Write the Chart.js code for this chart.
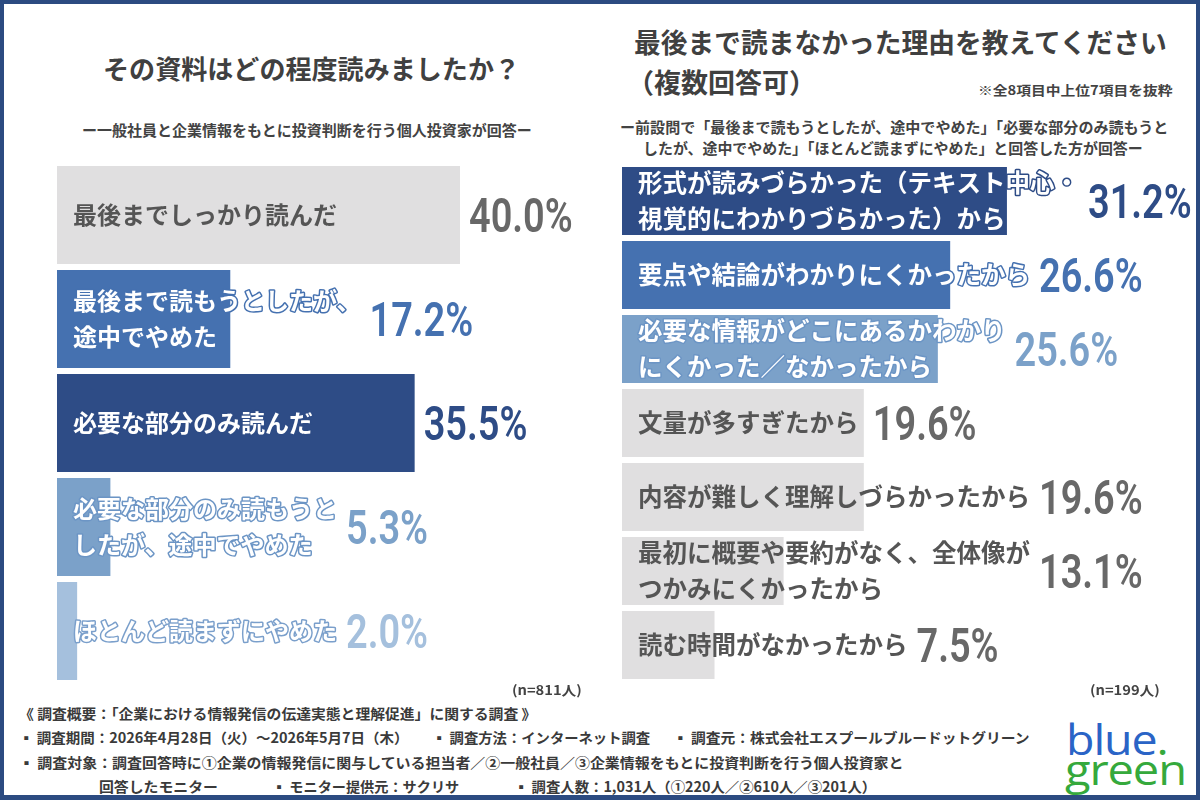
<!DOCTYPE html>
<html lang="ja">
<head>
<meta charset="utf-8">
<script src="https://cdn.jsdelivr.net/npm/chart.js@4"></script>
<style>
  html, body { margin: 0; padding: 0; }
  body {
    width: 1200px; height: 800px; position: relative; overflow: hidden;
    background: #fff; font-family: "Noto Sans CJK JP", sans-serif; font-weight: 700; color: #434343;
  }
  .frame {
    position: absolute; left: 0; top: 0; width: 1200px; height: 800px; box-sizing: border-box;
    border: 4px solid #2c4b81; border-bottom-width: 5px;
  }
  .t { position: absolute; white-space: nowrap; line-height: 1; transform-origin: left center; }
  .foot { font-size: 14px; color: #3a3a3a; }
  canvas { position: absolute; }
  .logo { position: absolute; font-family: "Open Sans", sans-serif; font-weight: 500; line-height: 1; letter-spacing: -1px; transform-origin: left center; white-space: nowrap; }
</style>
</head>
<body>
<div class="frame"></div>

<div class="t fit" data-w="417" style="left:103px; top:55px; font-size:26px; color:#404040;">その資料はどの程度読みましたか？</div>
<div class="t fit" data-w="450" style="left:82px; top:122px; font-size:15px;">ー一般社員と企業情報をもとに投資判断を行う個人投資家が回答ー</div>

<div class="t fit" data-w="533" style="left:634px; top:28px; font-size:27px; color:#404040;">最後まで読まなかった理由を教えてください</div>
<div class="t" style="left:627px; top:68px; font-size:27px; color:#404040;">（複数回答可）</div>
<div class="t fit" data-w="194" style="left:978px; top:83px; font-size:13px;">※全8項目中上位7項目を抜粋</div>
<div class="t fit" data-w="548" style="left:620px; top:119px; font-size:15px;">ー前設問で「最後まで読もうとしたが、途中でやめた」「必要な部分のみ読もうと</div>
<div class="t fit" data-w="500" style="left:643px; top:140px; font-size:15px;">したが、途中でやめた」「ほとんど読まずにやめた」と回答した方が回答ー</div>

<canvas id="leftChart" width="540" height="520" style="left:57px; top:163px;"></canvas>
<canvas id="rightChart" width="570" height="518" style="left:622px; top:164px;"></canvas>

<div class="t fit" data-w="70" style="left:512px; top:683px; font-size:13px;">(n=811人)</div>
<div class="t fit" data-w="70" style="left:1090px; top:683px; font-size:13px;">(n=199人)</div>

<div class="t foot fit" data-w="517" style="left:19px; top:706px;">《 調査概要：「企業における情報発信の伝達実態と理解促進」に関する調査 》</div>
<div class="t foot fit" data-w="390" style="left:19px; top:730px;">▪ 調査期間：2026年4月28日（火）～2026年5月7日（木）</div>
<div class="t foot fit" data-w="218" style="left:432px; top:730px;">▪ 調査方法：インターネット調査</div>
<div class="t foot fit" data-w="356" style="left:673px; top:730px;">▪ 調査元：株式会社エスプールブルードットグリーン</div>
<div class="t foot fit" data-w="884" style="left:19px; top:755px;">▪ 調査対象：調査回答時に①企業の情報発信に関与している担当者／②一般社員／③企業情報をもとに投資判断を行う個人投資家と</div>
<div class="t foot fit" data-w="119" style="left:99px; top:779px;">回答したモニター</div>
<div class="t foot fit" data-w="187" style="left:272px; top:779px;">▪ モニター提供元：サクリサ</div>
<div class="t foot fit" data-w="362" style="left:514px; top:779px;">▪ 調査人数：1,031人（①220人／②610人／③201人）</div>

<div class="logo fit" data-w="102" style="left:1066px; top:718px; font-size:42px; color:#2a64c6;">blue<span style="color:#35a93c;">.</span></div>
<div class="logo fit" data-w="121" style="left:1065px; top:748px; font-size:42px; color:#35a93c;">green</div>

<script>
// left chart: その資料はどの程度読みましたか？
const leftCategories = [
  ["最後までしっかり読んだ"],
  ["最後まで読もうとしたが、", "途中でやめた"],
  ["必要な部分のみ読んだ"],
  ["必要な部分のみ読もうと", "したが、途中でやめた"],
  ["ほとんど読まずにやめた"]
];
const leftValues = [40.0, 17.2, 35.5, 5.3, 2.0];

// right chart: 最後まで読まなかった理由
const rightCategories = [
  ["形式が読みづらかった（テキスト中心・", "視覚的にわかりづらかった）から"],
  ["要点や結論がわかりにくかったから"],
  ["必要な情報がどこにあるかわかり", "にくかった／なかったから"],
  ["文量が多すぎたから"],
  ["内容が難しく理解しづらかったから"],
  ["最初に概要や要約がなく、全体像が", "つかみにくかったから"],
  ["読む時間がなかったから"]
];
const rightValues = [31.2, 26.6, 25.6, 19.6, 19.6, 13.1, 7.5];

const DARK = "#2e4c86", MID = "#4571b0", LIGHT = "#7ba1c9", PALE = "#a5c0dd", GRAY = "#e0dfe0";
const GRAY_TEXT = "#555555", GRAY_VALUE = "#686868";

const barText = {
  id: "barText",
  afterDatasetsDraw(chart, args, opts) {
    const ctx = chart.ctx;
    const values = chart.data.datasets[0].data;
    chart.getDatasetMeta(0).data.forEach((bar, i) => {
      const lines = chart.data.labels[i];
      const x0 = bar.base + 16;
      let w = 0;
      ctx.save();
      ctx.font = 'bold ' + opts.labelSize + 'px "Noto Sans CJK JP"';
      ctx.textBaseline = "middle";
      ctx.textAlign = "left";
      lines.forEach((ln, k) => {
        const y = bar.y + (k - (lines.length - 1) / 2) * 36;
        if (opts.outline[i]) {
          ctx.lineWidth = 3;
          ctx.lineJoin = "round";
          ctx.strokeStyle = opts.outline[i];
          ctx.strokeText(ln, x0, y);
        }
        ctx.fillStyle = opts.outline[i] ? "#ffffff" : GRAY_TEXT;
        ctx.fillText(ln, x0, y);
        w = Math.max(w, ctx.measureText(ln).width);
      });
      // big percentage after the bar or the label, whichever ends later
      const vx = Math.max(bar.x, x0 + w) + 9;
      ctx.font = '600 48px Roboto';
      ctx.textBaseline = "alphabetic";
      ctx.translate(vx, bar.y + 17);
      ctx.scale(0.79, 1);
      ctx.fillStyle = opts.valueColors[i];
      ctx.fillText(values[i].toFixed(1) + "%", 0, 0);
      ctx.restore();
    });
  }
};

function makeChart(id, cats, vals, colors, maxX, barPct, textOpts) {
  return new Chart(document.getElementById(id), {
    type: "bar",
    data: {
      labels: cats,
      datasets: [{
        data: vals,
        backgroundColor: colors,
        borderWidth: 0,
        barPercentage: barPct,
        categoryPercentage: 1
      }]
    },
    options: {
      indexAxis: "y",
      responsive: false,
      animation: false,
      devicePixelRatio: 1,
      layout: { padding: 0 },
      scales: {
        x: { display: false, min: 0, max: maxX },
        y: { display: false }
      },
      plugins: {
        legend: { display: false },
        tooltip: { enabled: false },
        barText: textOpts
      }
    },
    plugins: [barText]
  });
}

makeChart("leftChart", leftCategories, leftValues,
  [GRAY, MID, DARK, LIGHT, PALE], 53.6, 98 / 104, {
    labelSize: 24,
    outline: [null, MID, DARK, "#6c95c5", "#7a9fcb"],
    valueColors: [GRAY_VALUE, MID, DARK, LIGHT, PALE]
  });

makeChart("rightChart", rightCategories, rightValues,
  [DARK, MID, LIGHT, GRAY, GRAY, GRAY, GRAY], 46.2, 68 / 74, {
    labelSize: 24.5,
    outline: [DARK, MID, "#6c95c5", null, null, null, null],
    valueColors: [DARK, MID, LIGHT, GRAY_VALUE, GRAY_VALUE, GRAY_VALUE, GRAY_VALUE]
  });

// squeeze the text lines to the widths they have in the original
document.querySelectorAll(".fit").forEach(el => {
  const w = +el.dataset.w;
  el.style.transform = `scaleX(${w / el.offsetWidth})`;
});
</script>
</body>
</html>
